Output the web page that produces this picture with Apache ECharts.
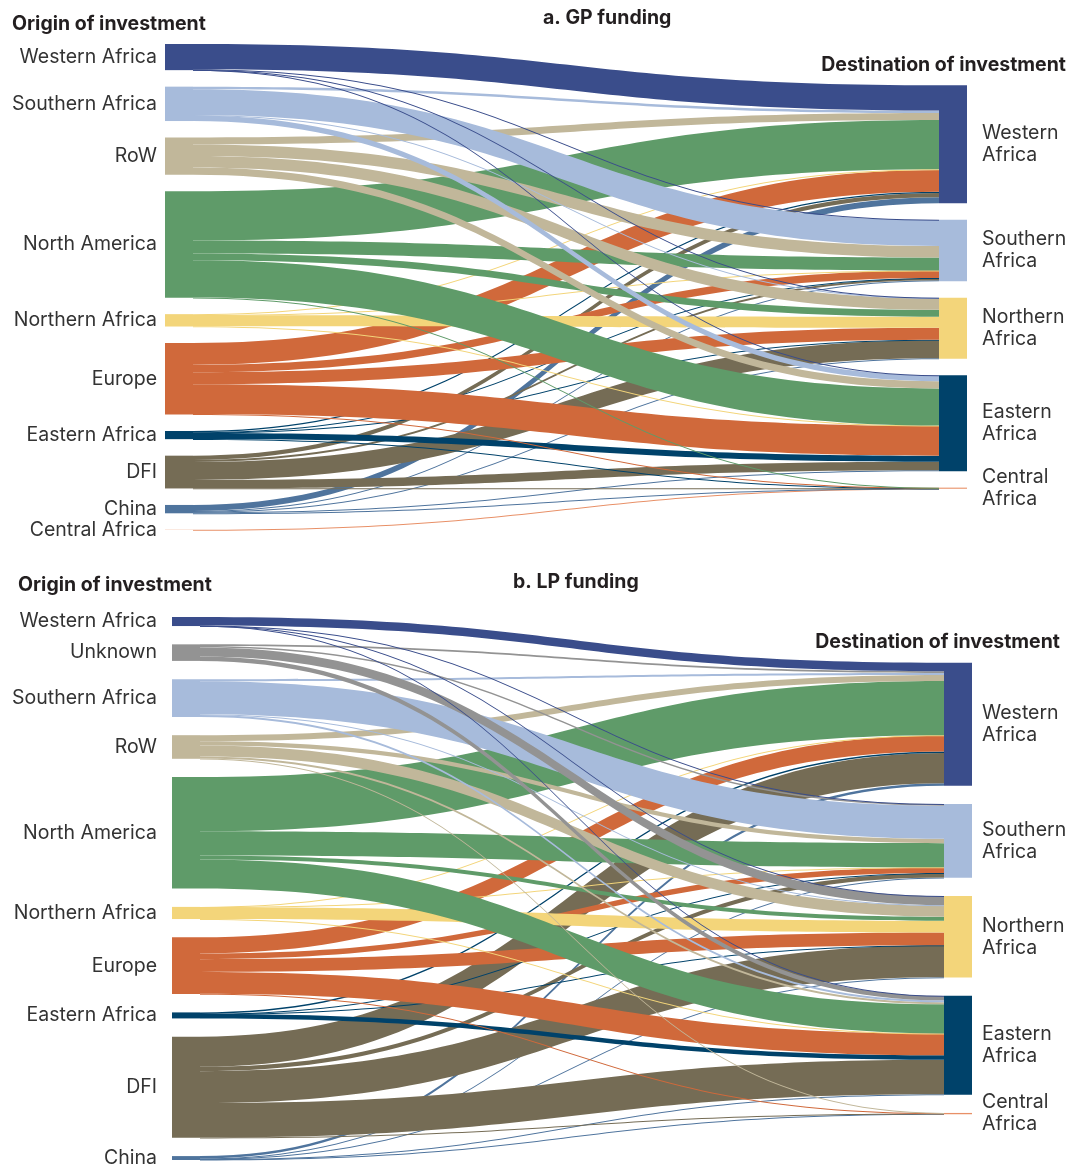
<!DOCTYPE html>
<html><head><meta charset="utf-8">
<script src="https://cdn.jsdelivr.net/npm/echarts@6/dist/echarts.min.js"></script>
<style>html,body{margin:0;padding:0;background:#fff}#chart{width:1073px;height:1168px}</style>
</head><body><div id="chart"></div>
<script>
// ---------- DATA ----------
const destinations = ['Western Africa', 'Southern Africa', 'Northern Africa', 'Eastern Africa', 'Central Africa'];

// a. GP funding: origins (top to bottom) and flows to [W, S, N, E, C] destinations
const gpOrigins = ['Western Africa', 'Southern Africa', 'RoW', 'North America', 'Northern Africa', 'Europe', 'Eastern Africa', 'DFI', 'China', 'Central Africa'];
const gpWesternAfrica  = [25.2, 0.3, 0.2, 0.3, 0];
const gpSouthernAfrica = [2.5, 25.7, 0.4, 5.6, 0];
const gpRoW            = [6.8, 11.5, 11.5, 7.2, 0];
const gpNorthAmerica   = [49.0, 12.8, 6.8, 37.0, 0.2];
const gpNorthernAfrica = [0.8, 0.2, 11.0, 0.3, 0];
const gpEurope         = [21.7, 7.3, 12.0, 29.7, 0.4];
const gpEasternAfrica  = [1.2, 0.4, 0.4, 6.0, 0.1];
const gpDFI            = [4.2, 2.0, 18.0, 8.3, 0.1];
const gpChina          = [6.0, 0.8, 0.4, 1.0, 0.1];
const gpCentralAfrica  = [0, 0, 0, 0, 0.2];
const gpFlows = [gpWesternAfrica, gpSouthernAfrica, gpRoW, gpNorthAmerica, gpNorthernAfrica, gpEurope, gpEasternAfrica, gpDFI, gpChina, gpCentralAfrica];

// b. LP funding
const lpOrigins = ['Western Africa', 'Unknown', 'Southern Africa', 'RoW', 'North America', 'Northern Africa', 'Europe', 'Eastern Africa', 'DFI', 'China'];
const lpWesternAfrica  = [8.5, 0.2, 0.1, 0.2, 0];
const lpUnknown        = [1.7, 1.5, 9.0, 4.3, 0];
const lpSouthernAfrica = [2.0, 33.0, 0.5, 2.0, 0];
const lpRoW            = [6.0, 4.3, 11.0, 2.0, 0.2];
const lpNorthAmerica   = [54.0, 24.0, 4.0, 29.0, 0];
const lpNorthernAfrica = [0.2, 0.1, 11.7, 0.1, 0];
const lpEurope         = [16.0, 5.7, 12.7, 21.7, 0.4];
const lpEasternAfrica  = [1.5, 0.1, 0.1, 4.3, 0];
const lpDFI            = [30.0, 4.3, 31.7, 34.3, 0.3];
const lpChina          = [2.5, 0.2, 0.3, 0.5, 0.4];
const lpFlows = [lpWesternAfrica, lpUnknown, lpSouthernAfrica, lpRoW, lpNorthAmerica, lpNorthernAfrica, lpEurope, lpEasternAfrica, lpDFI, lpChina];

const titleGP = 'a. GP funding';
const titleLP = 'b. LP funding';
const originTitle = 'Origin of investment';
const destTitle = 'Destination of investment';

// ---------- STYLE ----------
const FONT = 'Inter';
const colors = {
  'Western Africa': '#3a4d8b',
  'Southern Africa': '#a7bbdb',
  'RoW': '#c1b79a',
  'North America': '#5f9b69',
  'Northern Africa': '#f3d57a',
  'Europe': '#d0693b',
  'Eastern Africa': '#00426a',
  'DFI': '#756c55',
  'China': '#4f749d',
  'Central Africa': '#e89067',
  'Unknown': '#939393'
};

function buildSeries(origins, flows, box) {
  const total = flows.flat().reduce((a, b) => a + b, 0);
  const ky = (box.height - (origins.length - 1) * box.gap) / total;
  // invisible spacer so the destination column is vertically centred
  const spacerPx = ((origins.length - 1) - (destinations.length - 1)) * box.gap / 2 - box.gap;
  const nodes = [];
  origins.forEach(o => nodes.push({
    name: 'src:' + o, depth: 0, itemStyle: { color: colors[o] },
    label: { position: 'left', distance: box.leftDist, align: 'right' }
  }));
  if (spacerPx > 0) nodes.push({
    name: 'spacer', depth: 1, value: spacerPx / ky,
    itemStyle: { color: 'rgba(0,0,0,0)' }, label: { show: false }
  });
  destinations.forEach(d => nodes.push({
    name: 'dst:' + d, depth: 1, itemStyle: { color: colors[d] },
    label: { position: 'right', distance: box.rightDist, align: 'left', lineHeight: 22 }
  }));
  const links = [];
  for (let i = origins.length - 1; i >= 0; i--) {
    flows[i].forEach((v, j) => {
      if (v > 0) links.push({ source: 'src:' + origins[i], target: 'dst:' + destinations[j], value: v });
    });
  }
  return {
    type: 'sankey',
    left: box.left, top: box.top, width: box.width, height: box.height,
    nodeWidth: 28, nodeGap: box.gap, layoutIterations: 0, nodeAlign: 'justify',
    draggable: false, silent: true,
    emphasis: { disabled: true },
    data: nodes, links: links,
    itemStyle: { borderWidth: 0 },
    lineStyle: { color: 'source', opacity: 1, curveness: 0.5 },
    label: {
      fontFamily: FONT, fontSize: 19.5, color: '#333333',
      formatter: p => p.name.startsWith('dst:') ? p.name.slice(4).replace(' ', '\n') : p.name.slice(4)
    }
  };
}

const chart = echarts.init(document.getElementById('chart'), null, { renderer: 'canvas' });
const tStyle = { fontFamily: FONT, fontSize: 19.5, fontWeight: 'bold', color: '#231f20' };
chart.setOption({
  animation: false,
  backgroundColor: '#ffffff',
  title: [
    { text: originTitle, left: 12, top: 14, padding: 0, textStyle: tStyle },
    { text: titleGP, left: 543, top: 8, padding: 0, textStyle: tStyle },
    { text: destTitle, right: 7, top: 55, padding: 0, textStyle: tStyle },
    { text: originTitle, left: 18, top: 575, padding: 0, textStyle: tStyle },
    { text: titleLP, left: 513, top: 572, padding: 0, textStyle: tStyle },
    { text: destTitle, right: 13, top: 632, padding: 0, textStyle: tStyle }
  ],
  series: [
    buildSeries(gpOrigins, gpFlows, { left: 165, top: 44, width: 802, height: 486, gap: 16.5, leftDist: 8, rightDist: 15 }),
    buildSeries(lpOrigins, lpFlows, { left: 172, top: 617, width: 800, height: 543, gap: 18.3, leftDist: 15, rightDist: 10 })
  ]
});
</script>
</body></html>
